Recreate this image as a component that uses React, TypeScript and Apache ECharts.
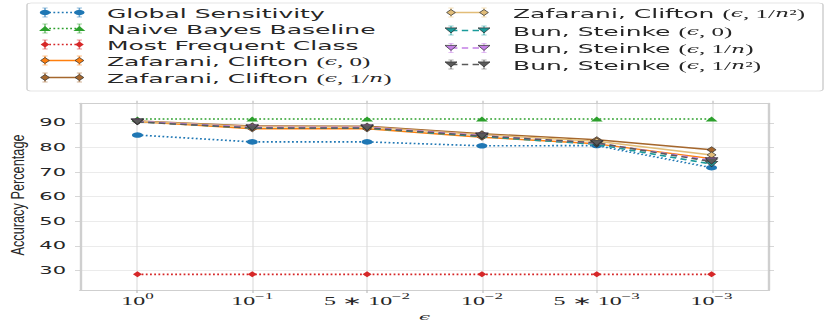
import React, { useEffect, useRef } from 'react';
import * as echarts from 'echarts';

// ---------- data ----------
const epsBase = ['10', '10', '5 ∗ 10', '10', '5 ∗ 10', '10'];
const epsExp = ['0', '−1', '−2', '−2', '−3', '−3'];
const epsIndex = [0, 1, 2, 3, 4, 5];
const yTicks = [30, 40, 50, 60, 70, 80, 90];

const globalSensitivity = [85.1, 82.3, 82.3, 80.7, 80.8, 71.8];
const naiveBayes = [91.6, 91.6, 91.6, 91.6, 91.6, 91.6];
const mostFrequent = [28.4, 28.4, 28.4, 28.4, 28.4, 28.4];
const zafarani0 = [90.6, 87.6, 87.6, 84.2, 81.5, 75.5];
const zafaraniN = [90.8, 88.8, 88.7, 85.6, 83.2, 79.1];
const zafaraniN2 = [90.7, 88.5, 88.4, 85.2, 82.6, 77.0];
const bun0 = [90.5, 87.9, 87.9, 84.4, 81.3, 73.3];
const bunN = [90.6, 88.3, 88.3, 84.9, 81.8, 74.8];
const bunN2 = [90.4, 88.0, 88.0, 84.7, 81.9, 74.3];

const seriesNames = [
  'Global Sensitivity',
  'Naive Bayes Baseline',
  'Most Frequent Class',
  'Zafarani, Clifton (ϵ, 0)',
  'Zafarani, Clifton (ϵ, 1/n)',
  'Zafarani, Clifton (ϵ, 1/n²)',
  'Bun, Steinke (ϵ, 0)',
  'Bun, Steinke (ϵ, 1/n)',
  'Bun, Steinke (ϵ, 1/n²)',
];
const legendRich = [
  '{t|Global Sensitivity}',
  '{t|Naive Bayes Baseline}',
  '{t|Most Frequent Class}',
  '{t|Zafarani, Clifton }{m|(}{i|ϵ}{m|, 0)}',
  '{t|Zafarani, Clifton }{m|(}{i|ϵ}{m|, 1/}{i|n}{m|)}',
  '{t|Zafarani, Clifton }{m|(}{i|ϵ}{m|, 1/}{i|n}{m|²)}',
  '{t|Bun, Steinke }{m|(}{i|ϵ}{m|, 0)}',
  '{t|Bun, Steinke }{m|(}{i|ϵ}{m|, 1/}{i|n}{m|)}',
  '{t|Bun, Steinke }{m|(}{i|ϵ}{m|, 1/}{i|n}{m|²)}',
];
const seriesData = [globalSensitivity, naiveBayes, mostFrequent, zafarani0, zafaraniN, zafaraniN2, bun0, bunN, bunN2];

// ---------- styles ----------
type Kind = 'circle' | 'up' | 'down' | 'diamond';
const DOT = [0.9, 1.2];
const DASH = [3.2, 2.2];
const seriesColor = ['#1f77b4', '#2ca02c', '#d62728', '#ff7f0e', '#a5672d', '#e2bd78', '#1a9b9b', '#c47fe6', '#5a5a5a'];
const seriesDash: (number[] | 'solid')[] = [DOT, DOT, DOT, 'solid', 'solid', 'solid', DASH, DASH, DASH];
const seriesKind: Kind[] = ['circle', 'up', 'diamond', 'diamond', 'diamond', 'diamond', 'down', 'down', 'down'];
const seriesEdge = [null, null, null, '#333', '#333', '#333', '#333', '#333', '#333'];

const W = 415.5;
const H = 327;
const SX = 2;

const DOWN_TRI = 'path://M0,0L2,0L1,2Z';

function symbolOf(kind: Kind) {
  if (kind === 'circle') return 'circle';
  if (kind === 'up') return 'triangle';
  if (kind === 'down') return DOWN_TRI;
  return 'diamond';
}
function symbolSizeOf(kind: Kind): number | number[] {
  if (kind === 'circle') return 5.5;
  if (kind === 'up') return [6, 5];
  if (kind === 'down') return [6, 5.5];
  return [4.5, 6];
}

function markerEl(kind: Kind, cx: number, cy: number, color: string, edge: string | null) {
  const style: any = { fill: color, stroke: edge || color, lineWidth: edge ? 0.5 : 0 };
  if (kind === 'circle') return { type: 'circle', shape: { cx, cy, r: 2.6 }, style };
  if (kind === 'up') return { type: 'polygon', shape: { points: [[cx - 3, cy + 2.4], [cx + 3, cy + 2.4], [cx, cy - 2.6]] }, style };
  if (kind === 'down') return { type: 'polygon', shape: { points: [[cx - 3, cy - 2.6], [cx + 3, cy - 2.6], [cx, cy + 2.4]] }, style };
  return { type: 'polygon', shape: { points: [[cx, cy - 3], [cx + 2.2, cy], [cx, cy + 3], [cx - 2.2, cy]] }, style };
}

function legendEntry(i: number, x1: number, x2: number, y: number, tx: number) {
  const color = seriesColor[i];
  const dash = seriesDash[i];
  const els: any[] = [];
  els.push({
    type: 'line',
    shape: { x1, y1: y, x2, y2: y },
    style: { stroke: color, lineWidth: 1.5, lineDash: dash === 'solid' ? null : dash, lineCap: 'butt' },
  });
  [x1, x2].forEach((cx) => {
    els.push({ type: 'line', shape: { x1: cx, y1: y - 4.5, x2: cx, y2: y + 4.5 }, style: { stroke: color, lineWidth: 0.8, opacity: 0.6 } });
    els.push({ type: 'line', shape: { x1: cx - 1.3, y1: y - 4.5, x2: cx + 1.3, y2: y - 4.5 }, style: { stroke: color, lineWidth: 0.8, opacity: 0.6 } });
    els.push({ type: 'line', shape: { x1: cx - 1.3, y1: y + 4.5, x2: cx + 1.3, y2: y + 4.5 }, style: { stroke: color, lineWidth: 0.8, opacity: 0.6 } });
    els.push(markerEl(seriesKind[i], cx, y, color, seriesEdge[i]));
  });
  els.push({
    type: 'text',
    x: tx,
    y: y + 1,
    style: {
      text: legendRich[i],
      align: 'left',
      verticalAlign: 'middle',
      rich: {
        t: { fontFamily: 'DejaVu Sans', fontSize: 12.5, fill: '#262626', color: '#262626' },
        m: { fontFamily: 'Liberation Serif', fontSize: 12.5, fill: '#262626', color: '#262626' },
        i: { fontFamily: 'DejaVu Serif', fontStyle: 'italic', fontSize: 11, fill: '#262626', color: '#262626' },
      },
    },
  });
  return els;
}

export default function App() {
  const ref = useRef<HTMLDivElement>(null);
  useEffect(() => {
    document.documentElement.style.overflow = 'hidden';
    document.body.style.margin = '0';
    const el = ref.current!;
    const chart = echarts.init(el, null, { renderer: 'svg', width: W, height: H });

    const frame = { show: true, onZero: false, lineStyle: { color: '#cfcfcf', width: 1.2 } };
    const tickStyle = { color: '#bdbdbd', width: 0.6 };

    const series: any[] = seriesData.map((arr, i) => ({
      name: seriesNames[i],
      type: 'line',
      data: arr.map((v, k) => [epsIndex[k], v]),
      symbol: symbolOf(seriesKind[i]),
      symbolSize: symbolSizeOf(seriesKind[i]),
      showAllSymbol: true,
      lineStyle: {
        color: seriesColor[i],
        width: i < 3 ? 1.6 : 1.5,
        type: seriesDash[i],
        cap: 'butt',
      },
      itemStyle: {
        color: seriesColor[i],
        borderColor: seriesEdge[i] || seriesColor[i],
        borderWidth: seriesEdge[i] ? 0.5 : 0,
        opacity: 1,
      },
      z: 2 + i,
      silent: true,
      emphasis: { disabled: true },
    }));

    const col1 = [13.5, 29.5, 45.5, 61.5, 78.5];
    const col2 = [13.5, 31.5, 49, 65.5];
    const graphic: any[] = [
      {
        type: 'rect',
        shape: { x: 13.5, y: 3, width: 398, height: 88, r: 2 },
        style: { fill: '#ffffff', stroke: '#cccccc', lineWidth: 0.7 },
        z: 100,
      },
    ];
    const legendEls: any[] = [];
    for (let i = 0; i < 5; i++) legendEls.push(...legendEntry(i, 22.5, 39.7, col1[i] - 1, 53.5));
    for (let i = 5; i < 9; i++) legendEls.push(...legendEntry(i, 225.5, 242, col2[i - 5] - 1, 256.5));
    legendEls.forEach((e) => {
      e.z = 101;
      graphic.push(e);
    });
    graphic.push({
      type: 'text',
      x: 8.8,
      y: 195,
      rotation: Math.PI / 2,
      scaleX: 1.45,
      z: 101,
      style: {
        text: 'Accuracy Percentage',
        fontFamily: 'Liberation Sans',
        fontSize: 8.8,
        fill: '#262626',
        align: 'center',
        verticalAlign: 'middle',
      },
    });

    const option: any = {
      animation: false,
      backgroundColor: '#ffffff',
      grid: { left: 40, top: 103.3, width: 344.5, height: 191, containLabel: false },
      xAxis: [
        {
          type: 'value',
          position: 'bottom',
          min: -0.5,
          max: 5.5,
          axisLine: frame,
          axisTick: { show: true, customValues: epsIndex, length: 3, lineStyle: tickStyle },
          splitLine: { show: true, lineStyle: { color: '#dadada', width: 0.55 } },
          axisLabel: {
            customValues: epsIndex,
            margin: 2,
            formatter: (v: number) => {
              const i = Math.round(v);
              return `{b|${epsBase[i]}}{s|${epsExp[i]}}`;
            },
            rich: {
              b: { fontFamily: 'Liberation Serif', fontSize: 12, color: '#262626', verticalAlign: 'bottom' },
              s: { fontFamily: 'Liberation Serif', fontSize: 8.5, color: '#262626', verticalAlign: 'top', padding: [0, 0, 6, 0] },
            },
          },
          name: 'ϵ',
          nameLocation: 'middle',
          nameGap: 16,
          nameTextStyle: { fontFamily: 'DejaVu Serif', fontStyle: 'italic', fontSize: 10, color: '#262626' },
        },
        {
          type: 'value',
          position: 'top',
          min: -0.5,
          max: 5.5,
          axisLine: frame,
          axisTick: { show: true, customValues: epsIndex, length: 2.5, lineStyle: tickStyle },
          axisLabel: { show: false },
          splitLine: { show: false },
        },
      ],
      yAxis: [
        {
          type: 'value',
          position: 'left',
          min: 22,
          max: 98,
          axisLine: frame,
          axisTick: { show: true, customValues: yTicks, length: 2.5, lineStyle: tickStyle },
          splitLine: { show: true, lineStyle: { color: '#ebebeb', width: 1 } },
          axisLabel: {
            customValues: yTicks,
            margin: 7,
            fontFamily: 'DejaVu Sans',
            fontSize: 10.5,
            color: '#262626',
          },
        },
        {
          type: 'value',
          position: 'right',
          min: 22,
          max: 98,
          axisLine: frame,
          axisTick: { show: true, customValues: yTicks, length: 2.5, lineStyle: tickStyle },
          axisLabel: { show: false },
          splitLine: { show: false },
        },
      ],
      series,
      graphic,
    };
    chart.setOption(option);
    return () => chart.dispose();
  }, []);

  return (
    <div
      ref={ref}
      style={{
        position: 'absolute',
        left: 0,
        top: 0,
        width: W,
        height: H,
        transform: `scaleX(${SX})`,
        transformOrigin: '0 0',
      }}
    />
  );
}
